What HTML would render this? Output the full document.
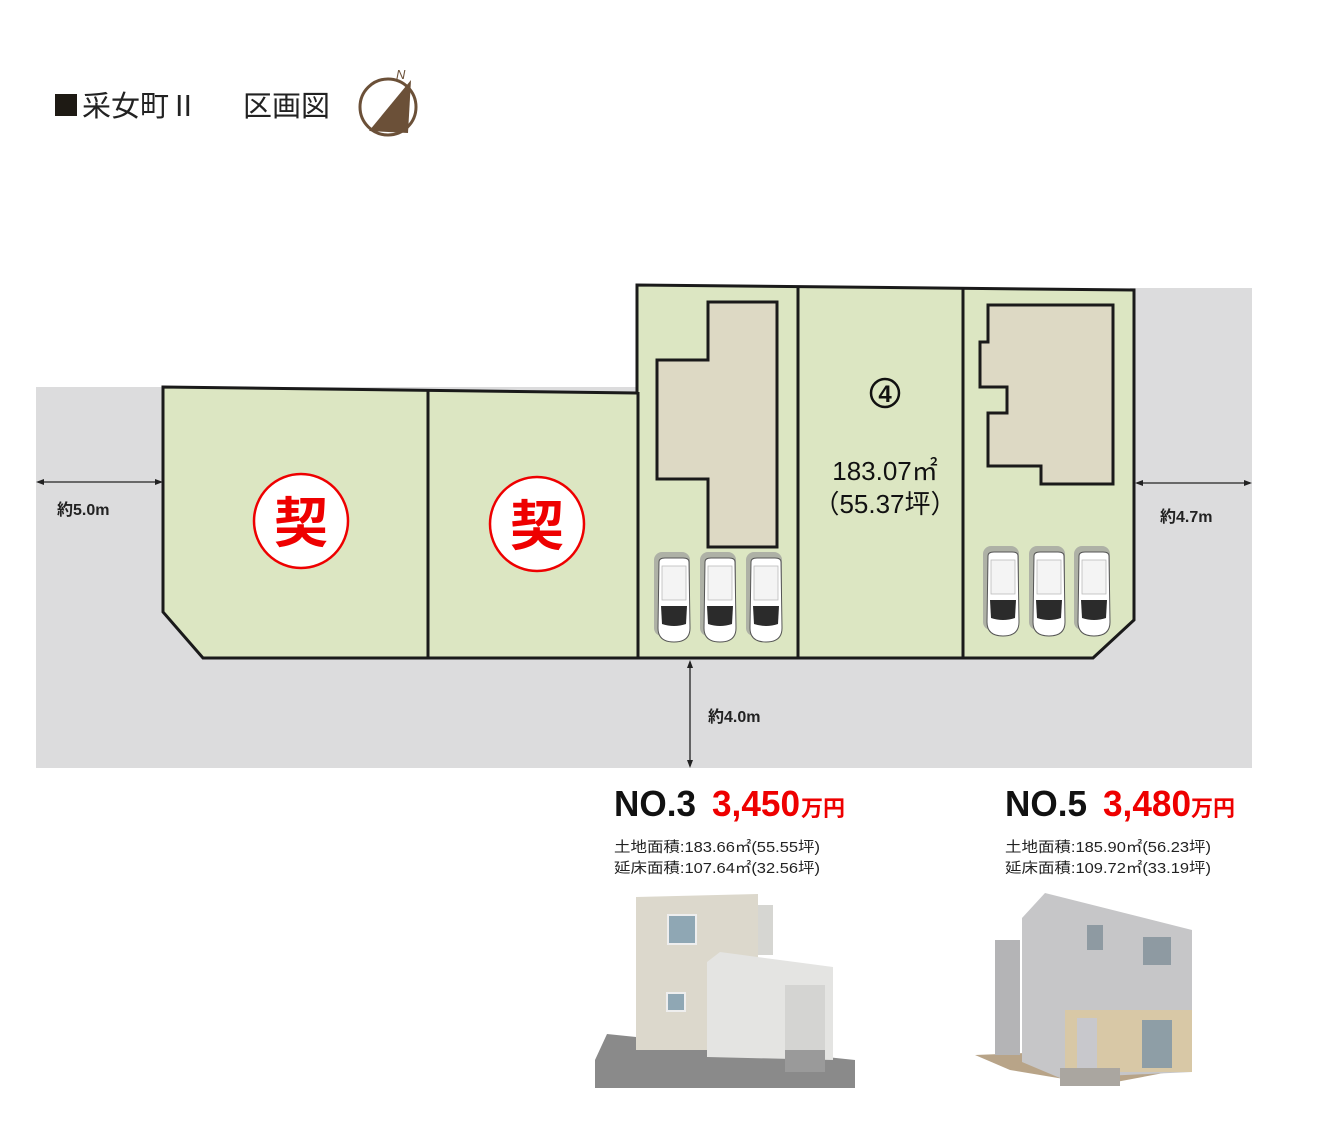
<!DOCTYPE html>
<html><head><meta charset="utf-8"><style>
body{margin:0;background:#fff;}
svg{display:block;font-family:"Liberation Sans","Noto Sans CJK JP",sans-serif;}
</style></head><body>
<svg width="1328" height="1127" viewBox="0 0 1328 1127" xmlns="http://www.w3.org/2000/svg">
<defs>
<g id="car">
<rect x="-3" y="-6" width="36" height="84" rx="8" fill="#9a9a9a" opacity="0.7"/>
<path d="M2,4 Q2,0 8,0 L26,0 Q32,0 32,4 L33,70 Q33,84 17,84 Q1,84 1,70 Z" fill="#fff" stroke="#555" stroke-width="1"/>
<rect x="5" y="8" width="24" height="34" fill="#f4f4f4" stroke="#bbb" stroke-width="0.8"/>
<path d="M4,48 L30,48 L29,66 Q17,70 5,66 Z" fill="#2b2b2b"/>
</g>
</defs>
<!-- title -->
<rect x="55" y="94" width="22" height="22" fill="#1e1a14"/>
<text x="82" y="116" font-size="29" fill="#222">采女町Ⅱ</text>
<text x="243" y="116" font-size="29" fill="#222">区画図</text>
<circle cx="388" cy="107" r="28" fill="none" stroke="#6b5038" stroke-width="3"/>
<polygon points="411,80 369,131 408,133" fill="#6b5038"/>
<text x="396" y="79" font-size="13" font-style="italic" fill="#6b5038">N</text>
<!-- road -->
<rect x="36" y="387" width="1216" height="381" fill="#dcdcdd"/>
<rect x="1130" y="288" width="122" height="110" fill="#dcdcdd"/>
<!-- lots -->
<polygon points="163,387 637,393 637,285 1134,290 1134,620 1093,658 203,658 163,612" fill="#dce6c2" stroke="#1a1a1a" stroke-width="3"/>
<line x1="428" y1="390" x2="428" y2="658" stroke="#1a1a1a" stroke-width="3"/>
<line x1="638" y1="392" x2="638" y2="658" stroke="#1a1a1a" stroke-width="3"/>
<line x1="798" y1="286" x2="798" y2="658" stroke="#1a1a1a" stroke-width="3"/>
<line x1="963" y1="288" x2="963" y2="658" stroke="#1a1a1a" stroke-width="3"/>
<!-- buildings -->
<polygon points="708,302 777,302 777,547 708,547 708,479 657,479 657,360 708,360" fill="#ddd9c4" stroke="#1a1a1a" stroke-width="3"/>
<polygon points="988,305 1113,305 1113,484 1041,484 1041,466 988,466 988,413 1007,413 1007,387 980,387 980,342 988,342" fill="#ddd9c4" stroke="#1a1a1a" stroke-width="3"/>
<!-- cars -->
<use href="#car" x="657" y="558"/>
<use href="#car" x="703" y="558"/>
<use href="#car" x="749" y="558"/>
<use href="#car" x="986" y="552"/>
<use href="#car" x="1032" y="552"/>
<use href="#car" x="1077" y="552"/>
<!-- lot 4 text -->
<circle cx="885" cy="393" r="14" fill="none" stroke="#111" stroke-width="2.5"/>
<text x="885" y="402" font-size="24" font-weight="bold" text-anchor="middle" fill="#111">4</text>
<text x="885" y="480" font-size="26" text-anchor="middle" fill="#111">183.07㎡</text>
<text x="885" y="513" font-size="26" text-anchor="middle" fill="#111">（55.37坪）</text>
<!-- contract marks -->
<circle cx="301" cy="521" r="47" fill="#fff" stroke="#e00" stroke-width="2.5"/>
<text x="301" y="542" font-size="54" font-weight="bold" text-anchor="middle" fill="#e00">契</text>
<circle cx="537" cy="524" r="47" fill="#fff" stroke="#e00" stroke-width="2.5"/>
<text x="537" y="545" font-size="54" font-weight="bold" text-anchor="middle" fill="#e00">契</text>
<!-- dimensions -->
<g stroke="#222" stroke-width="1.3" fill="#222">
<line x1="38" y1="482" x2="161" y2="482"/>
<polygon points="36,482 44,479 44,485" stroke="none"/>
<polygon points="163,482 155,479 155,485" stroke="none"/>
<line x1="1137" y1="483" x2="1250" y2="483"/>
<polygon points="1135,483 1143,480 1143,486" stroke="none"/>
<polygon points="1252,483 1244,480 1244,486" stroke="none"/>
<line x1="690" y1="662" x2="690" y2="766"/>
<polygon points="690,660 687,668 693,668" stroke="none"/>
<polygon points="690,768 687,760 693,760" stroke="none"/>
</g>
<text x="57" y="515" font-size="16" font-weight="bold" fill="#222">約5.0m</text>
<text x="1160" y="522" font-size="16" font-weight="bold" fill="#222">約4.7m</text>
<text x="708" y="722" font-size="16" font-weight="bold" fill="#222">約4.0m</text>
<!-- NO.3 -->
<text x="614" y="816" font-size="36" font-weight="bold" fill="#111" textLength="82" lengthAdjust="spacingAndGlyphs">NO.3</text>
<text x="712" y="816" font-size="36" font-weight="bold" fill="#e00" textLength="88" lengthAdjust="spacingAndGlyphs">3,450</text>
<text x="801" y="816" font-size="22" font-weight="bold" fill="#e00">万円</text>
<text x="614" y="852" font-size="14.5" fill="#222" textLength="206" lengthAdjust="spacingAndGlyphs">土地面積:183.66㎡(55.55坪)</text>
<text x="614" y="873" font-size="14.5" fill="#222" textLength="206" lengthAdjust="spacingAndGlyphs">延床面積:107.64㎡(32.56坪)</text>
<!-- NO.5 -->
<text x="1005" y="816" font-size="36" font-weight="bold" fill="#111" textLength="82" lengthAdjust="spacingAndGlyphs">NO.5</text>
<text x="1103" y="816" font-size="36" font-weight="bold" fill="#e00" textLength="88" lengthAdjust="spacingAndGlyphs">3,480</text>
<text x="1191" y="816" font-size="22" font-weight="bold" fill="#e00">万円</text>
<text x="1005" y="852" font-size="14.5" fill="#222" textLength="206" lengthAdjust="spacingAndGlyphs">土地面積:185.90㎡(56.23坪)</text>
<text x="1005" y="873" font-size="14.5" fill="#222" textLength="206" lengthAdjust="spacingAndGlyphs">延床面積:109.72㎡(33.19坪)</text>
<!-- house 3 -->
<polygon points="607,1034 855,1060 855,1088 595,1088 595,1060" fill="#8a8a8a"/>
<rect x="757" y="905" width="16" height="50" fill="#d6d6d2"/>
<polygon points="636,897 758,894 758,1050 636,1050" fill="#dcd8cc"/>
<polygon points="707,962 720,952 833,967 833,1060 707,1057" fill="#e4e4e2"/>
<rect x="668" y="915" width="28" height="29" fill="#8fa7b4" stroke="#eee" stroke-width="2"/>
<rect x="667" y="993" width="18" height="18" fill="#8fa7b4" stroke="#eee" stroke-width="2"/>
<rect x="785" y="985" width="40" height="70" fill="#d4d4d2"/>
<rect x="785" y="1050" width="40" height="22" fill="#9a9a9a"/>
<!-- house 5 -->
<polygon points="975,1055 1100,1050 1190,1068 1100,1085 1010,1070" fill="#b8a488"/>
<rect x="995" y="940" width="25" height="115" fill="#b4b4b6"/>
<polygon points="1022,918 1045,893 1192,930 1192,1072 1060,1078 1022,1062" fill="#c6c6c8"/>
<rect x="1065" y="1010" width="127" height="62" fill="#d8c8a6"/>
<rect x="1077" y="1018" width="20" height="50" fill="#c8c8cc"/>
<rect x="1142" y="1020" width="30" height="48" fill="#8e9ea6"/>
<rect x="1087" y="925" width="16" height="25" fill="#8e9aa2"/>
<rect x="1143" y="937" width="28" height="28" fill="#8e9aa2"/>
<rect x="1060" y="1068" width="60" height="18" fill="#aaa6a0"/>
</svg>
</body></html>
